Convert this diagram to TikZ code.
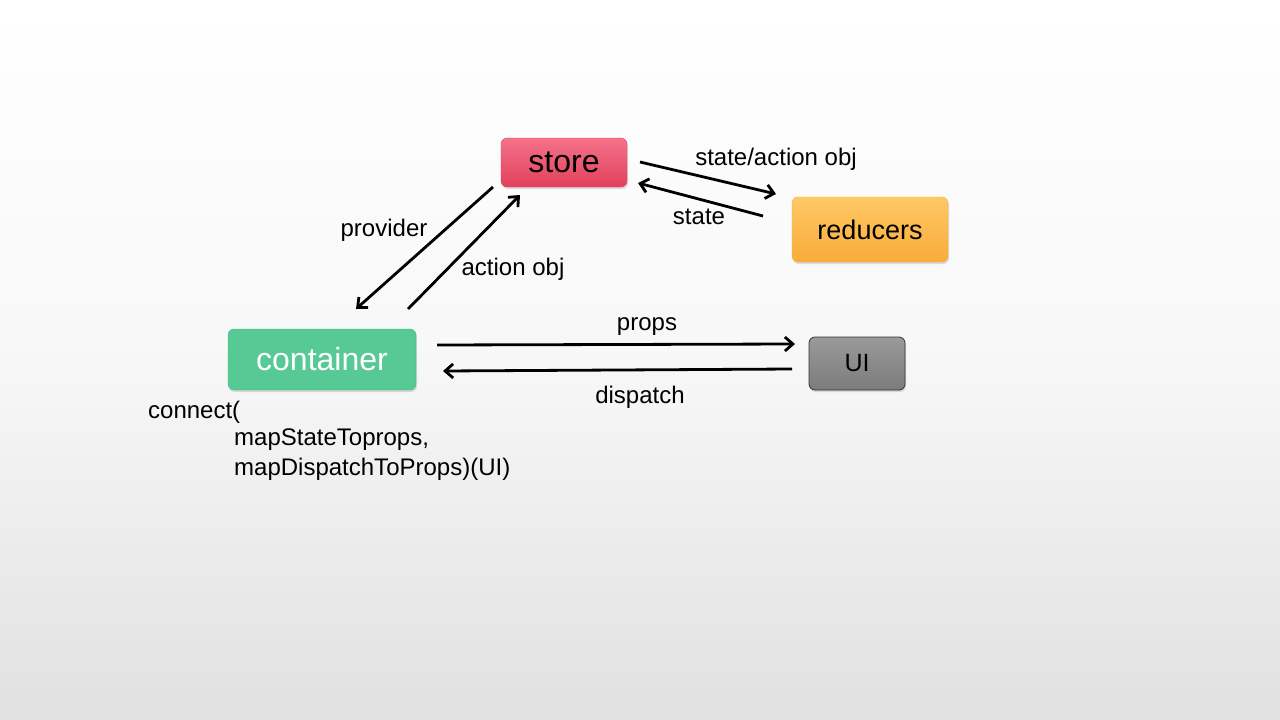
\documentclass[tikz,border=0pt]{standalone}
\usepackage{fontspec}
\setmainfont{Liberation Sans}
\usetikzlibrary{arrows.meta,shadows}
\definecolor{redtop}{HTML}{F4728A}
\definecolor{redbot}{HTML}{E3405C}
\definecolor{orgtop}{HTML}{FFC965}
\definecolor{orgbot}{HTML}{F8AC3A}
\definecolor{grn}{HTML}{57C995}
\definecolor{grnline}{HTML}{4DB585}
\definecolor{graytop}{HTML}{9A9A9A}
\definecolor{graybot}{HTML}{7C7C7C}
\tikzset{
  box/.style={rounded corners=6pt, inner sep=0pt, drop shadow={opacity=0.25,shadow xshift=1pt,shadow yshift=-2pt}},
  conn/.style={line width=2.8pt, -{Straight Barb[length=8pt,width=14pt,line width=2.8pt]}},
  lbl/.style={font=\fontsize{24}{26}\selectfont, inner sep=0pt}
}
\begin{document}
\begin{tikzpicture}[x=1pt,y=-1pt]
\shade[top color=white, bottom color=black!12, middle color=black!3] (0,0) rectangle (1280,720);
\useasboundingbox (0,0) rectangle (1280,720);
% nodes
\node[box, top color=redtop, bottom color=redbot, draw=redbot, minimum width=126pt, minimum height=49pt, font=\fontsize{32}{34}\selectfont] (store) at (564,162.5) {store};
\node[box, top color=orgtop, bottom color=orgbot, draw=orgbot, minimum width=156pt, minimum height=65pt, font=\fontsize{27}{29}\selectfont] (reducers) at (870,229.5) {reducers};
\node[box, fill=grn, draw=grnline, minimum width=188pt, minimum height=61pt, text=white, font=\fontsize{32}{34}\selectfont] (container) at (322,359.5) {container};
\node[box, top color=graytop, bottom color=graybot, draw=black!80, line width=0.8pt, minimum width=96pt, minimum height=53pt, font=\fontsize{25}{27}\selectfont] (ui) at (857,363.5) {UI};
% connector end points
\coordinate (s1) at (640,162);  \coordinate (r1) at (776,194);
\coordinate (r2) at (763,216);  \coordinate (s2) at (638,183);
\coordinate (s3) at (493,187);  \coordinate (c3) at (356,309);
\coordinate (c4) at (408,309);  \coordinate (s4) at (520,195);
\coordinate (c5) at (437,345);  \coordinate (u5) at (795,344);
\coordinate (u6) at (792,369);  \coordinate (c6) at (443,371);
\draw[conn] (s1) -- (r1);
\draw[conn] (r2) -- (s2);
\draw[conn] (s3) -- (c3);
\draw[conn] (c4) -- (s4);
\draw[conn] (c5) -- (u5);
\draw[conn] (u6) -- (c6);
% labels
\node[lbl] (l1) at (776,159) {state/action obj};
\node[lbl] (l2) at (699,217) {state};
\node[lbl] (l3) at (384,230) {provider};
\node[lbl] (l4) at (513,269) {action obj};
\node[lbl] (l5) at (647,327) {props};
\node[lbl] (l6) at (640,397) {dispatch};
\node[lbl, anchor=west] (t1) at (148,412) {connect(};
\node[lbl, anchor=west] (t2) at (234,440) {mapStateToprops,};
\node[lbl, anchor=west] (t3) at (234,469) {mapDispatchToProps)(UI)};
\end{tikzpicture}
\end{document}
